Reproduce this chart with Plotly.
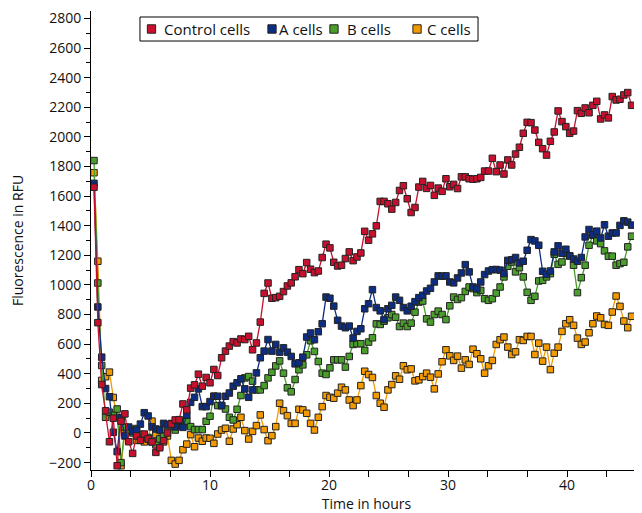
import plotly.graph_objects as go

# reading times (hours)
hours = [0.25, 0.575, 0.9, 1.225, 1.55, 1.875, 2.2, 2.525, 2.85, 3.175,
         3.5, 3.825, 4.15, 4.475, 4.8, 5.125, 5.45, 5.775, 6.1, 6.425,
         6.75, 7.075, 7.4, 7.725, 8.05, 8.375, 8.7, 9.025, 9.35, 9.675,
         10.0, 10.325, 10.65, 10.975, 11.3, 11.625, 11.95, 12.275, 12.6, 12.925,
         13.25, 13.575, 13.9, 14.225, 14.55, 14.875, 15.2, 15.525, 15.85, 16.175,
         16.5, 16.825, 17.15, 17.475, 17.8, 18.125, 18.45, 18.775, 19.1, 19.425,
         19.75, 20.075, 20.4, 20.725, 21.05, 21.375, 21.7, 22.025, 22.35, 22.675,
         23.0, 23.325, 23.65, 23.975, 24.3, 24.625, 24.95, 25.275, 25.6, 25.925,
         26.25, 26.575, 26.9, 27.225, 27.55, 27.875, 28.2, 28.525, 28.85, 29.175,
         29.5, 29.825, 30.15, 30.475, 30.8, 31.125, 31.45, 31.775, 32.1, 32.425,
         32.75, 33.075, 33.4, 33.725, 34.05, 34.375, 34.7, 35.025, 35.35, 35.675,
         36.0, 36.325, 36.65, 36.975, 37.3, 37.625, 37.95, 38.275, 38.6, 38.925,
         39.25, 39.575, 39.9, 40.225, 40.55, 40.875, 41.2, 41.525, 41.85, 42.175,
         42.5, 42.825, 43.15, 43.475, 43.8, 44.125, 44.45, 44.775, 45.1, 45.425]

control = [1660, 745, 327, 150, -59, 100, -221, 80, 129, -59,
           -138, -20, -50, -7, -40, -60, -131, -100, -52, 0,
           60, 88, 90, 196, 156, 303, 325, 397, 316, 375,
           339, 429, 388, 508, 553, 587, 617, 608, 635, 631,
           653, 562, 608, 749, 943, 1013, 910, 914, 923, 955,
           993, 1014, 1055, 1103, 1076, 1151, 1106, 1083, 1094, 1185,
           1275, 1250, 1153, 1128, 1133, 1178, 1223, 1164, 1189, 1216,
           1362, 1302, 1345, 1399, 1564, 1564, 1548, 1512, 1557, 1638,
           1670, 1582, 1489, 1523, 1661, 1699, 1652, 1672, 1605, 1654,
           1632, 1717, 1663, 1679, 1651, 1730, 1730, 1717, 1714, 1717,
           1726, 1769, 1769, 1855, 1765, 1810, 1749, 1844, 1810, 1884,
           1930, 2024, 2098, 2096, 2046, 1963, 1920, 1877, 1970, 2033,
           2175, 2103, 2069, 2024, 2039, 2177, 2159, 2195, 2163, 2213,
           2240, 2121, 2148, 2128, 2272, 2249, 2254, 2283, 2299, 2213]

a_cells = [1686, 851, 512, 300, 245, 5, -126, 104, -20, 40,
           10, 20, 60, 137, 115, 41, 27, 20, 65, 55,
           64, 41, 84, 38, 120, 207, 241, 298, 178, 178,
           212, 248, 248, 185, 248, 270, 316, 339, 366, 298,
           241, 291, 406, 508, 553, 631, 553, 598, 546, 575,
           546, 517, 467, 474, 512, 648, 675, 630, 684, 738,
           918, 910, 857, 761, 722, 711, 722, 641, 686, 704,
           839, 873, 968, 847, 825, 766, 839, 862, 918, 896,
           847, 825, 856, 887, 914, 930, 959, 977, 1020, 1061,
           1059, 1061, 1020, 1014, 1047, 1081, 1137, 1088, 986, 973,
           1020, 1070, 1094, 1103, 1104, 1100, 1076, 1166, 1170, 1185,
           1148, 1160, 1234, 1306, 1297, 1268, 1092, 1071, 1094, 1223,
           1264, 1214, 1241, 1196, 1175, 1160, 1185, 1324, 1374, 1340,
           1363, 1317, 1406, 1329, 1351, 1351, 1402, 1433, 1424, 1404]

b_cells = [1840, 1013, 456, 106, 140, 120, 162, -200, 40, 20,
           0, 30, -10, -30, -30, -60, -80, -40, -20, 30,
           50, 20, 61, 50, 79, 43, 23, 23, 23, 79,
           113, 248, 185, 185, 162, 106, 88, 160, 253, 372,
           381, 350, 291, 291, 320, 372, 410, 453, 487, 404,
           305, 278, 361, 427, 460, 528, 623, 551, 483, 404,
           395, 440, 494, 494, 494, 445, 517, 598, 603, 603,
           557, 614, 643, 737, 733, 755, 778, 800, 782, 719,
           742, 719, 742, 816, 884, 891, 771, 749, 800, 823,
           800, 766, 859, 918, 902, 914, 956, 986, 975, 948,
           963, 907, 896, 907, 945, 986, 1054, 1126, 1155, 1088,
           1117, 1054, 950, 896, 923, 1027, 1031, 1054, 1076, 1207,
           1139, 1155, 1212, 1196, 1133, 948, 1049, 1133, 1268, 1335,
           1297, 1279, 1230, 1194, 1194, 1133, 1144, 1153, 1257, 1329]

c_cells = [1758, 1160, 355, 380, 411, 240, 106, -221, 0, 30,
           20, -50, -20, -60, -40, 80, -10, -90, -60, -20,
           -185, -210, -185, -113, -75, -11, -93, -34, -56, -34,
           -36, -70, -7, 20, 32, -56, 27, 56, 106, 16,
           -41, 11, 50, 122, 23, -52, -18, 43, 201, 151,
           117, 65, 65, 160, 156, 133, 65, 20, 106, 178,
           253, 241, 235, 269, 309, 291, 223, 185, 223, 320,
           417, 395, 375, 253, 201, 174, 291, 327, 386, 363,
           454, 427, 433, 352, 359, 381, 404, 377, 298, 399,
           481, 562, 521, 490, 519, 438, 494, 463, 566, 535,
           501, 404, 454, 490, 598, 630, 648, 580, 530, 548,
           630, 625, 652, 652, 530, 607, 485, 580, 428, 539,
           580, 686, 738, 765, 727, 641, 598, 614, 677, 738,
           790, 778, 733, 727, 817, 925, 855, 756, 711, 788]

names = ["Control cells", "A cells", "B cells", "C cells"]
colors = ["#c8102e", "#0c2d82", "#4a9e2c", "#f39a00"]
values = [control, a_cells, b_cells, c_cells]

FONT = "Open Sans, Lato, sans-serif"

fig = go.Figure()

# draw back to front so the control cells sit on top
for name, vals, col in reversed(list(zip(names, values, colors))):
    fig.add_trace(go.Scatter(
        x=hours, y=vals, mode="lines+markers", name=name, showlegend=False,
        line=dict(color=col, width=1.3),
        marker=dict(symbol="square", size=6.5, color=col,
                    line=dict(color="#222222", width=1))))

# compact boxed legend (squares + labels) along the top of the plot
shapes = [dict(type="rect", xref="paper", yref="paper",
               x0=0.0889, x1=0.7024, y0=0.9346, y1=0.9869,
               line=dict(color="black", width=1), fillcolor="white", layer="above")]
annotations = []
sq_x = [0.1098, 0.3285, 0.4410, 0.5917]
txt_x = [0.1289, 0.3376, 0.4610, 0.6062]
yc = 0.9608
dx, dy = 0.0075, 0.0092
for name, col, sx, tx in zip(names, colors, sq_x, txt_x):
    shapes.append(dict(type="rect", xref="paper", yref="paper",
                       x0=sx - dx, x1=sx + dx, y0=yc - dy, y1=yc + dy,
                       line=dict(color="#222222", width=1), fillcolor=col, layer="above"))
    annotations.append(dict(xref="paper", yref="paper", x=tx, y=yc,
                            xanchor="left", yanchor="middle", showarrow=False,
                            text=name, font=dict(family=FONT, size=15, color="#111111")))

# page body adds an 8px offset, so the figure is sized to the visible area
fig.update_layout(
    width=634, height=505,
    margin=dict(l=83, r=0, t=3, b=43),
    paper_bgcolor="white", plot_bgcolor="white",
    font=dict(family=FONT, size=14, color="#111111"),
    showlegend=False,
    shapes=shapes,
    annotations=annotations,
    xaxis=dict(
        range=[0, 46.3], showline=True, linecolor="black", linewidth=1,
        showgrid=False, zeroline=False, automargin=False,
        tickmode="linear", tick0=0, dtick=10,
        ticks="outside", ticklen=6, tickcolor="black", ticklabelstandoff=-4,
        minor=dict(dtick=10 / 3, ticks="outside", ticklen=6, tickcolor="black", showgrid=False),
        title=dict(text="Time in hours", standoff=6, font=dict(size=14)),
    ),
    yaxis=dict(
        range=[-250, 2850], showline=True, linecolor="black", linewidth=1,
        showgrid=False, zeroline=False, automargin=False,
        tickmode="linear", tick0=0, dtick=200,
        ticks="outside", ticklen=6, tickcolor="black",
        minor=dict(dtick=100, ticks="outside", ticklen=4, tickcolor="black", showgrid=False),
        title=dict(text="Fluorescence in RFU", standoff=24, font=dict(size=14)),
    ),
)

fig.write_html("out.html")
